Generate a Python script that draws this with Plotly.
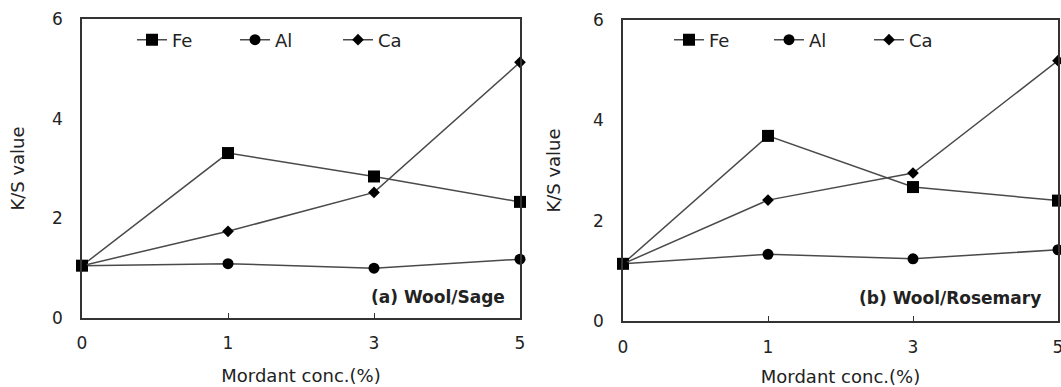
import plotly.graph_objects as go

conc = ["0", "1", "3", "5"]
sage_fe = [1.05, 3.31, 2.84, 2.33]
sage_al = [1.05, 1.09, 1.00, 1.18]
sage_ca = [1.05, 1.74, 2.52, 5.13]
rose_fe = [1.14, 3.69, 2.67, 2.40]
rose_al = [1.14, 1.33, 1.24, 1.42]
rose_ca = [1.14, 2.41, 2.95, 5.19]
series_names = ["Fe", "Al", "Ca"]
panel_labels = ["(a) Wool/Sage", "(b) Wool/Rosemary"]

W, H = 1061, 387
FONT = "DejaVu Sans"
TXT = "#222222"
LINE = "#4a4a4a"

symbols = {"Fe": ("square", 12), "Al": ("circle", 11), "Ca": ("diamond", 9)}

fig = go.Figure()
panels = [
    ("x", "y", "legend", [sage_fe, sage_al, sage_ca]),
    ("x2", "y2", "legend2", [rose_fe, rose_al, rose_ca]),
]
for xa, ya, lg, vals in panels:
    for name, v in zip(series_names, vals):
        sym, sz = symbols[name]
        fig.add_trace(go.Scatter(
            x=conc, y=v, name=name, mode="lines+markers",
            xaxis=xa, yaxis=ya, legend=lg, cliponaxis=False,
            line=dict(color=LINE, width=1.5),
            marker=dict(symbol=sym, size=sz, color="black"),
        ))

# pixel geometry
L1, R1, T1, B1 = 82, 520, 19, 318
L2, R2, T2, B2 = 623, 1058, 20, 321

def xd(a, b):
    return [a / W, b / W]

def yd(t, b):
    return [1 - b / H, 1 - t / H]

axis_common = dict(showline=True, linecolor="#333333", linewidth=1.5, mirror=True,
                   showgrid=False, zeroline=False, automargin=False,
                   tickfont=dict(family=FONT, size=17, color=TXT))
tfont = dict(family=FONT, size=18, color=TXT)

fig.update_layout(
    width=W, height=H, margin=dict(l=0, r=0, t=0, b=0, autoexpand=False),
    paper_bgcolor="white", plot_bgcolor="white",
    font=dict(family=FONT, size=17, color=TXT),
    xaxis=dict(domain=xd(L1, R1), anchor="y", type="category", range=[0, 3],
               ticks="inside", ticklen=5, tickcolor="#333333", ticklabelstandoff=9,
               title=dict(text="Mordant conc.(%)", standoff=17, font=tfont),
               **axis_common),
    yaxis=dict(domain=yd(T1, B1), anchor="x", range=[0, 6], dtick=2, ticks="",
               ticklabelstandoff=14,
               title=dict(text="K/S value", standoff=23, font=tfont),
               **axis_common),
    xaxis2=dict(domain=xd(L2, R2), anchor="y2", type="category", range=[0, 3],
                ticks="inside", ticklen=5, tickcolor="#333333", ticklabelstandoff=10,
                title=dict(text="Mordant conc.(%)", standoff=14, font=tfont),
                **axis_common),
    yaxis2=dict(domain=yd(T2, B2), anchor="x2", range=[0, 6], dtick=2, ticks="",
                ticklabelstandoff=14,
                title=dict(text="K/S value", standoff=28, font=tfont),
                **axis_common),
    legend=dict(orientation="h", x=132 / W, y=1 - 40 / H, xanchor="left", yanchor="middle",
                entrywidth=58, bgcolor="rgba(0,0,0,0)",
                font=dict(family=FONT, size=18, color=TXT)),
    legend2=dict(orientation="h", x=669 / W, y=1 - 40 / H, xanchor="left", yanchor="middle",
                 entrywidth=55, bgcolor="rgba(0,0,0,0)",
                 font=dict(family=FONT, size=18, color=TXT)),
    annotations=[
        dict(text="<b>" + panel_labels[0] + "</b>", xref="paper", yref="paper",
             x=507 / W, y=1 - 297 / H, xanchor="right", yanchor="middle", showarrow=False,
             font=dict(family=FONT, size=17, color=TXT)),
        dict(text="<b>" + panel_labels[1] + "</b>", xref="paper", yref="paper",
             x=1043 / W, y=1 - 298 / H, xanchor="right", yanchor="middle", showarrow=False,
             font=dict(family=FONT, size=17, color=TXT)),
    ],
)

fig.write_html("out.html", config={"displayModeBar": False},
               post_script="document.body.style.margin='0';document.body.style.overflow='hidden';")
